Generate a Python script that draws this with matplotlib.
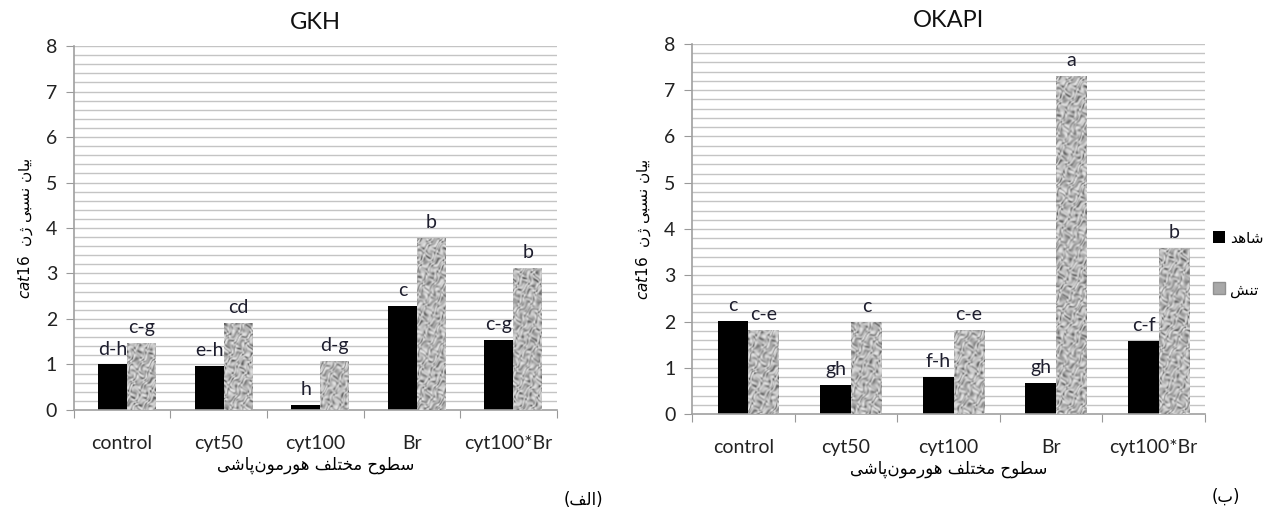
import numpy as np
import matplotlib
matplotlib.use("Agg")
import matplotlib.pyplot as plt
from matplotlib.patches import Rectangle
from matplotlib.colors import LinearSegmentedColormap

# ---------------- data ----------------
categories = ["control", "cyt50", "cyt100", "Br", "cyt100*Br"]
gkh_control = [1.00, 0.97, 0.11, 2.29, 1.54]
gkh_stress = [1.48, 1.91, 1.08, 3.78, 3.12]
gkh_control_letters = ["d-h", "e-h", "h", "c", "c-g"]
gkh_stress_letters = ["c-g", "cd", "d-g", "b", "b"]
okapi_control = [2.01, 0.63, 0.80, 0.67, 1.58]
okapi_stress = [1.82, 2.00, 1.82, 7.30, 3.60]
okapi_control_letters = ["c", "gh", "f-h", "gh", "c-f"]
okapi_stress_letters = ["c-e", "c", "c-e", "a", "b"]
yticks = [0, 1, 2, 3, 4, 5, 6, 7, 8]

# ---------------- minimal Arabic/Persian shaping ----------------
FORMS = {
    'ا': (0xFE8D, 0xFE8E, None, None),
    'ب': (0xFE8F, 0xFE90, 0xFE91, 0xFE92),
    'ت': (0xFE95, 0xFE96, 0xFE97, 0xFE98),
    'ح': (0xFEA1, 0xFEA2, 0xFEA3, 0xFEA4),
    'خ': (0xFEA5, 0xFEA6, 0xFEA7, 0xFEA8),
    'د': (0xFEA9, 0xFEAA, None, None),
    'ر': (0xFEAD, 0xFEAE, None, None),
    'ژ': (0xFB8A, 0xFB8B, None, None),
    'س': (0xFEB1, 0xFEB2, 0xFEB3, 0xFEB4),
    'ش': (0xFEB5, 0xFEB6, 0xFEB7, 0xFEB8),
    'ط': (0xFEC1, 0xFEC2, 0xFEC3, 0xFEC4),
    'ف': (0xFED1, 0xFED2, 0xFED3, 0xFED4),
    'ل': (0xFEDD, 0xFEDE, 0xFEDF, 0xFEE0),
    'م': (0xFEE1, 0xFEE2, 0xFEE3, 0xFEE4),
    'ن': (0xFEE5, 0xFEE6, 0xFEE7, 0xFEE8),
    'ه': (0xFEE9, 0xFEEA, 0xFEEB, 0xFEEC),
    'و': (0xFEED, 0xFEEE, None, None),
    'ی': (0xFBFC, 0xFBFD, 0xFBFE, 0xFBFF),
    'پ': (0xFB56, 0xFB57, 0xFB58, 0xFB59),
}


def dual(c):
    return c in FORMS and FORMS[c][2] is not None


def shape(s):
    out = []
    n = len(s)
    for i, c in enumerate(s):
        if c == '\u200c':
            continue
        if c not in FORMS:
            out.append(c)
            continue
        prev = s[i - 1] if i > 0 else ''
        nxt = s[i + 1] if i + 1 < n else ''
        jp = dual(prev)
        jn = dual(c) and nxt in FORMS
        iso, fin, ini, med = FORMS[c]
        if jp and jn:
            code = med
        elif jp:
            code = fin
        elif jn:
            code = ini
        else:
            code = iso
        out.append(chr(code))
    return ''.join(out)


def rtl(s):
    return shape(s)[::-1]


fam = ['Lato', 'DejaVu Sans']
afam = ['DejaVu Sans']
plt.rcParams['font.family'] = fam
plt.rcParams['mathtext.fontset'] = 'dejavusans'

ylabel_txt = r"$\mathit{cat16}$  " + rtl("بیان نسبی ژن")
xlabel_txt = rtl("سطوح مختلف هورمون‌پاشی")
leg_control = rtl("شاهد")
leg_stress = rtl("تنش")
panel_a = "(" + rtl("الف") + ")"
panel_b = "(" + rtl("ب") + ")"

tex_cmap = LinearSegmentedColormap.from_list("mottle", ["#5e5e5e", "#9a9a9a", "#c4c4c4", "#e2e2e2"])


def texture(nx, ny, p):
    # deterministic mottled texture (domain-warped sines), purely decorative
    X, Y = np.meshgrid(np.arange(nx, dtype=float), np.arange(ny, dtype=float))
    wx = X + 1.6 * np.sin(0.31 * Y + 0.9 * p) + 1.2 * np.sin(0.53 * X + 0.23 * Y + p)
    wy = Y + 1.8 * np.sin(0.27 * X + 1.3 * p) + 1.3 * np.sin(0.37 * Y - 0.47 * X + 2 * p)
    v = (np.sin(1.05 * wx + 0.45 * wy + p) + np.sin(0.41 * wx - 0.97 * wy + 2.1 * p)
         + np.sin(1.27 * wx + 1.11 * wy + 0.7 * p) + 0.7 * np.sin(0.63 * wy - 1.43 * wx + 1.3 * p))
    return v


W = 0.3
OFF = 0.05
txtc = '#1e1e2e'
fig = plt.figure(figsize=(12.73, 5.17), dpi=100)


def panel(rect, title, ctrl, strs, cl, sl):
    ax = fig.add_axes(rect)
    x = np.arange(len(categories))
    for y in np.arange(0.2, 8.01, 0.2):
        ax.axhline(y, color='#c4c4c4', lw=1.0, zorder=0)
    bars_c = ax.bar(x + OFF - W / 2, ctrl, W, color='black', zorder=2)
    bars_s = ax.bar(x + OFF + W / 2, strs, W, color='#b4b4b4', zorder=2)
    for k, b in enumerate(bars_s):
        x0 = b.get_x()
        h = b.get_height()
        ny = max(int(h * 46), 2)
        tex = texture(30, ny, k * 1.7 + 0.3)
        im = ax.imshow(tex, extent=(x0, x0 + W, 0, h), aspect='auto', cmap=tex_cmap,
                       vmin=-3.4, vmax=2.6, interpolation='bilinear', zorder=3)
        im.set_clip_path(b)
    ax.set_xlim(-0.5, len(categories) - 0.5)
    ax.set_ylim(0, 8)
    for b, t in zip(bars_c, cl):
        ax.annotate(t, (b.get_x() + b.get_width() / 2, b.get_height()), xytext=(0, 5),
                    textcoords='offset points', ha='center', va='bottom', fontsize=14,
                    color=txtc, zorder=5)
    for b, t in zip(bars_s, sl):
        ax.annotate(t, (b.get_x() + b.get_width() / 2, b.get_height()), xytext=(0, 5),
                    textcoords='offset points', ha='center', va='bottom', fontsize=14,
                    color=txtc, zorder=5)
    ax.set_yticks(yticks)
    ax.set_yticklabels([str(v) for v in yticks], fontsize=14, color='#222222')
    ax.set_xticks(np.arange(-0.5, len(categories), 1.0))
    ax.set_xticklabels([])
    ax.set_xticks(x, minor=True)
    ax.set_xticklabels(categories, minor=True, fontsize=14, color='#222222')
    ax.tick_params(axis='x', which='minor', length=0, pad=18)
    ax.tick_params(axis='x', which='major', length=6, color='#999999', direction='out')
    ax.tick_params(axis='y', length=6, color='#999999', direction='out', pad=6)
    for s in ['top', 'right']:
        ax.spines[s].set_visible(False)
    for s in ['left', 'bottom']:
        ax.spines[s].set_color('#a0a0a0')
        ax.spines[s].set_linewidth(1.2)
    ax.set_title(title, fontsize=17, color='#111111', pad=12)
    ax.set_ylabel(ylabel_txt, fontsize=11, family=afam, labelpad=8)
    ax.set_xlabel(xlabel_txt, fontsize=12, family=afam, labelpad=3)
    return ax


ax1 = panel([0.058, 0.207, 0.3795, 0.704], "GKH", gkh_control, gkh_stress,
            gkh_control_letters, gkh_stress_letters)
ax2 = panel([0.5436, 0.199, 0.403, 0.716], "OKAPI", okapi_control, okapi_stress,
            okapi_control_letters, okapi_stress_letters)

# legend
fig.patches.append(Rectangle((1213 / 1273, 1 - 243 / 517), 12 / 1273, 12 / 517,
                             transform=fig.transFigure, facecolor='black', edgecolor='none'))
fig.patches.append(Rectangle((1213 / 1273, 1 - 294 / 517), 12 / 1273, 12 / 517,
                             transform=fig.transFigure, facecolor='#a8a8a8', edgecolor='#909090'))
fig.text(1230 / 1273, 1 - 238 / 517, leg_control, family=afam, fontsize=11,
         va='center', ha='left', color='black')
fig.text(1230 / 1273, 1 - 290 / 517, leg_stress, family=afam, fontsize=11,
         va='center', ha='left', color='black')

fig.text(603 / 1273, 1 - 500 / 517, panel_a, family=afam, fontsize=12, ha='right', va='center')
fig.text(1240 / 1273, 1 - 497 / 517, panel_b, family=afam, fontsize=12, ha='right', va='center')

fig.savefig("out.png", dpi=100)
